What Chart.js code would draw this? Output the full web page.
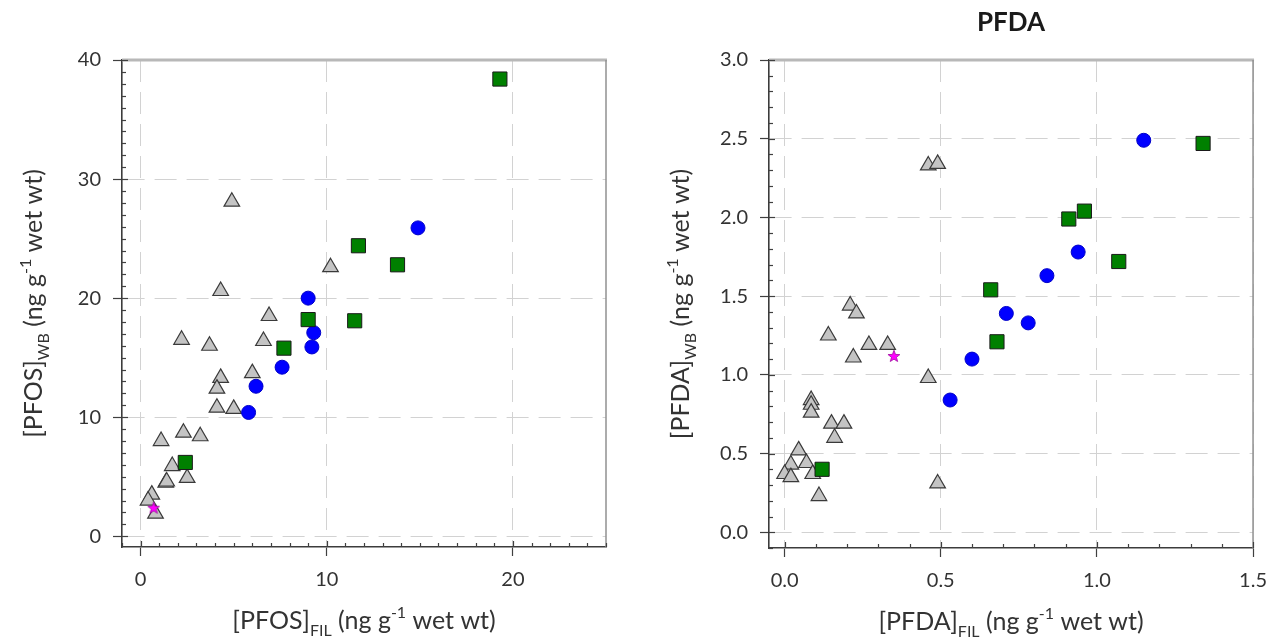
<!DOCTYPE html>
<html>
<head>
<meta charset="utf-8">
<script src="https://cdn.jsdelivr.net/npm/chart.js@4.4.1/dist/chart.umd.min.js"></script>
<style>
  html, body { margin: 0; padding: 0; background: #fff; }
  #wrap { position: relative; width: 1279px; height: 638px; }
  .box { position: absolute; top: 0; height: 638px; }
  #left { left: 0; width: 640px; }
  #right { left: 640px; width: 639px; }
</style>
</head>
<body>
<div id="wrap">
  <div class="box" id="left"><canvas id="pfos"></canvas></div>
  <div class="box" id="right"><canvas id="pfda"></canvas></div>
</div>
<script>
// ---- PFOS (left panel) ----
const pfosTriFil = [4.9, 10.2, 4.3, 6.9, 2.2, 3.7, 6.6, 6.0, 4.3, 4.1, 4.1, 5.0, 2.3, 3.2, 1.1, 1.7, 2.5, 1.35, 1.4, 0.6, 0.4, 0.8];
const pfosTriWb  = [28.1, 22.6, 20.6, 18.5, 16.5, 16.0, 16.4, 13.7, 13.3, 12.4, 10.8, 10.7, 8.7, 8.4, 8.0, 5.9, 4.9, 4.5, 4.6, 3.5, 3.0, 1.9];
const pfosCircFil = [14.9, 9.0, 9.3, 9.2, 7.6, 6.2, 5.8];
const pfosCircWb  = [25.9, 20.0, 17.1, 15.9, 14.2, 12.6, 10.4];
const pfosSqFil = [19.3, 11.7, 13.8, 9.0, 11.5, 7.7, 2.4];
const pfosSqWb  = [38.4, 24.4, 22.8, 18.2, 18.1, 15.8, 6.2];
const pfosStarFil = [0.7];
const pfosStarWb  = [2.4];
const pfosXTicks = [0, 10, 20];
const pfosYTicks = [0, 10, 20, 30, 40];

// ---- PFDA (right panel) ----
const pfdaTriFil = [0.46, 0.49, 0.21, 0.23, 0.14, 0.27, 0.33, 0.22, 0.46, 0.085, 0.085, 0.085, 0.15, 0.19, 0.16, 0.045, 0.02, 0.07, 0.0, 0.02, 0.09, 0.11, 0.49];
const pfdaTriWb  = [2.33, 2.34, 1.44, 1.39, 1.25, 1.19, 1.19, 1.11, 0.98, 0.84, 0.81, 0.76, 0.69, 0.69, 0.60, 0.52, 0.43, 0.44, 0.37, 0.35, 0.37, 0.23, 0.31];
const pfdaCircFil = [1.15, 0.94, 0.84, 0.71, 0.78, 0.60, 0.53];
const pfdaCircWb  = [2.49, 1.78, 1.63, 1.39, 1.33, 1.10, 0.84];
const pfdaSqFil = [1.34, 0.96, 0.91, 1.07, 0.66, 0.68, 0.12];
const pfdaSqWb  = [2.47, 2.04, 1.99, 1.72, 1.54, 1.21, 0.40];
const pfdaStarFil = [0.35];
const pfdaStarWb  = [1.12];
const pfdaXTicks = [0, 0.5, 1.0, 1.5];
const pfdaYTicks = [0, 0.5, 1.0, 1.5, 2.0, 2.5, 3.0];

const FONT = 'Lato, "Open Sans", sans-serif';
const TEXT = '#333333';

function pairs(xs, ys) {
  return xs.map((x, i) => ({ x: x, y: ys[i] }));
}

// small filled star used as point style
function makeStar() {
  const c = document.createElement('canvas');
  c.width = 14; c.height = 14;
  const g = c.getContext('2d');
  g.beginPath();
  for (let i = 0; i < 10; i++) {
    const r = i % 2 ? 2.6 : 6.2;
    const a = -Math.PI / 2 + i * Math.PI / 5;
    g.lineTo(7 + r * Math.cos(a), 7.5 + r * Math.sin(a));
  }
  g.closePath();
  g.fillStyle = '#ff00ff';
  g.fill();
  g.strokeStyle = '#a000a0';
  g.lineWidth = 0.8;
  g.stroke();
  return c;
}
const starImg = makeStar();

// text with sub/superscripts, centred on (x, y)
function drawRich(ctx, parts, x, y, angle, color) {
  ctx.save();
  ctx.translate(x, y);
  ctx.rotate(angle);
  ctx.fillStyle = color || TEXT;
  ctx.textBaseline = 'alphabetic';
  ctx.textAlign = 'left';
  let total = 0;
  parts.forEach(p => {
    ctx.font = (p.bold ? 'bold ' : '') + p.size + 'px ' + FONT;
    p.w = ctx.measureText(p.t).width;
    total += p.w;
  });
  let cx = -total / 2;
  parts.forEach(p => {
    ctx.font = (p.bold ? 'bold ' : '') + p.size + 'px ' + FONT;
    ctx.fillText(p.t, cx, p.dy || 0);
    cx += p.w;
  });
  ctx.restore();
}

function axisTitle(name, sub) {
  return [
    { t: '[' + name + ']', size: 25 },
    { t: sub, size: 16, dy: 7 },
    { t: ' (ng g', size: 25 },
    { t: '-1', size: 16, dy: -11 },
    { t: ' wet wt)', size: 25 }
  ];
}

// frame, minor ticks and axis titles
const axisDecor = {
  id: 'axisDecor',
  beforeDatasetsDraw(chart, args, o) {
    const { ctx, chartArea: a, scales } = chart;
    ctx.save();
    ctx.strokeStyle = '#b8b8b8';
    ctx.lineWidth = 3;
    ctx.beginPath();
    ctx.moveTo(a.left, a.top);
    ctx.lineTo(a.right + 1, a.top);
    ctx.stroke();
    ctx.strokeStyle = '#909090';
    ctx.lineWidth = 1.5;
    ctx.beginPath();
    ctx.moveTo(a.right, a.top);
    ctx.lineTo(a.right, a.bottom);
    ctx.stroke();

    ctx.strokeStyle = '#404040';
    ctx.lineWidth = 1.2;
    const minor = (scale, step, majors, horiz) => {
      const i0 = Math.ceil(scale.min / step - 1e-6);
      const i1 = Math.floor(scale.max / step + 1e-6);
      for (let i = i0; i <= i1; i++) {
        const v = i * step;
        const isMajor = majors.some(m => Math.abs(m - v) < step / 10);
        const len = isMajor ? 6 : 4;
        const p = Math.round(scale.getPixelForValue(v)) + 0.5;
        ctx.beginPath();
        if (horiz) {
          ctx.moveTo(p, a.bottom);
          ctx.lineTo(p, a.bottom - len);
        } else {
          ctx.moveTo(a.left, p);
          ctx.lineTo(a.left + len, p);
        }
        ctx.stroke();
      }
    };
    minor(scales.x, o.xMinor, o.xTicks, true);
    minor(scales.y, o.yMinor, o.yTicks, false);
    ctx.restore();
  },
  afterDraw(chart, args, o) {
    const { ctx, chartArea: a } = chart;
    const cx = (a.left + a.right) / 2;
    const cy = (a.top + a.bottom) / 2;
    drawRich(ctx, axisTitle(o.name, 'FIL'), cx, a.bottom + 82, 0);
    drawRich(ctx, axisTitle(o.name, 'WB'), a.left - 80, cy, -Math.PI / 2);
    if (o.title) {
      drawRich(ctx, [{ t: o.title, size: 26, bold: true }], cx, 31, 0, '#1a1a1a');
    }
  }
};

function makeChart(id, cfg) {
  const tickFont = { family: FONT, size: 20 };
  const axis = (min, max, ticks, fmt, fit) => ({
    type: 'linear',
    min: min,
    max: max,
    afterBuildTicks: s => { s.ticks = ticks.map(v => ({ value: v })); },
    afterFit: fit,
    ticks: {
      font: tickFont,
      color: TEXT,
      padding: 12,
      callback: v => fmt(v)
    },
    grid: {
      color: '#d2d2d2',
      lineWidth: 1,
      tickColor: '#404040',
      tickLength: 9,
      tickWidth: 1.2
    },
    border: { display: true, color: '#3c3c3c', width: 1.6, dash: [22, 10] }
  });

  return new Chart(document.getElementById(id), {
    type: 'scatter',
    data: {
      datasets: [
        {
          label: 'star',
          data: pairs(cfg.star[0], cfg.star[1]),
          pointStyle: starImg
        },
        {
          label: 'squares',
          data: pairs(cfg.sq[0], cfg.sq[1]),
          pointStyle: 'rect',
          pointRadius: 10,
          backgroundColor: '#008000',
          borderColor: '#1a1a1a',
          borderWidth: 1
        },
        {
          label: 'circles',
          data: pairs(cfg.circ[0], cfg.circ[1]),
          pointStyle: 'circle',
          pointRadius: 7,
          backgroundColor: '#0000ff',
          borderColor: '#0000c8',
          borderWidth: 1
        },
        {
          label: 'triangles',
          data: pairs(cfg.tri[0], cfg.tri[1]),
          pointStyle: 'triangle',
          pointRadius: 9,
          backgroundColor: '#c4c4c4',
          borderColor: '#3a3a3a',
          borderWidth: 1.2
        }
      ]
    },
    options: {
      responsive: true,
      maintainAspectRatio: false,
      animation: false,
      layout: { padding: { left: 0, top: 60, right: cfg.padRight, bottom: 0 } },
      scales: {
        x: axis(cfg.xMin, cfg.xMax, cfg.xTicks, cfg.fmt, s => { s.height = cfg.xHeight; }),
        y: axis(cfg.yMin, cfg.yMax, cfg.yTicks, cfg.fmt, s => { s.width = cfg.yWidth; })
      },
      plugins: {
        legend: { display: false },
        tooltip: { enabled: false },
        axisDecor: {
          name: cfg.name,
          title: cfg.title,
          xMinor: cfg.xMinor,
          yMinor: cfg.yMinor,
          xTicks: cfg.xTicks,
          yTicks: cfg.yTicks
        }
      }
    },
    plugins: [axisDecor]
  });
}

makeChart('pfos', {
  name: 'PFOS',
  title: '',
  tri: [pfosTriFil, pfosTriWb],
  circ: [pfosCircFil, pfosCircWb],
  sq: [pfosSqFil, pfosSqWb],
  star: [pfosStarFil, pfosStarWb],
  xMin: -1, xMax: 25, yMin: -0.9, yMax: 40,
  xTicks: pfosXTicks, yTicks: pfosYTicks,
  xMinor: 1, yMinor: 1,
  fmt: v => String(v),
  yWidth: 122, xHeight: 91, padRight: 34
});

makeChart('pfda', {
  name: 'PFDA',
  title: 'PFDA',
  tri: [pfdaTriFil, pfdaTriWb],
  circ: [pfdaCircFil, pfdaCircWb],
  sq: [pfdaSqFil, pfdaSqWb],
  star: [pfdaStarFil, pfdaStarWb],
  xMin: -0.05, xMax: 1.5, yMin: -0.1, yMax: 3.0,
  xTicks: pfdaXTicks, yTicks: pfdaYTicks,
  xMinor: 0.1, yMinor: 0.1,
  fmt: v => v.toFixed(1),
  yWidth: 129, xHeight: 90, padRight: 22
});
</script>
</body>
</html>
